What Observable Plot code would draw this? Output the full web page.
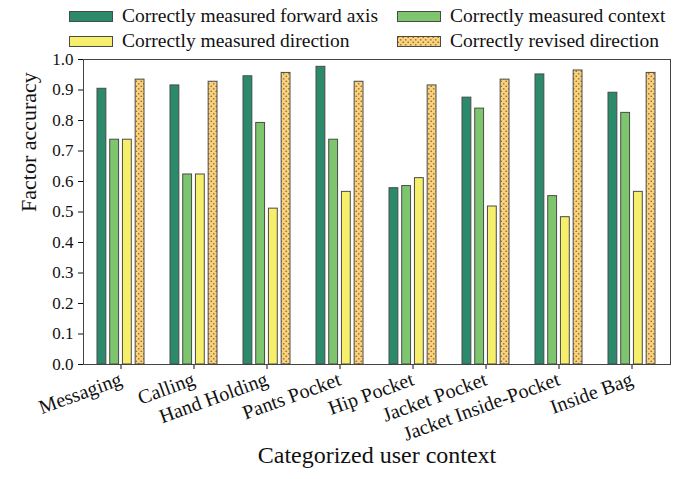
<!DOCTYPE html>
<html>
<head>
<meta charset="utf-8">
<script src="https://cdn.jsdelivr.net/npm/d3@7"></script>
<script src="https://cdn.jsdelivr.net/npm/@observablehq/plot@0.6"></script>
<style>
  body { margin: 0; background: #fff; font-family: "Liberation Serif", serif; }
  #legend { position: relative; width: 687px; height: 50px; }
  .item { position: absolute; display: flex; align-items: center; height: 24px; font-size: 19.5px; color: #111; white-space: nowrap; }
  .item svg { margin-right: 9px; }
  #chart svg g[aria-label^="x-axis"] text { font-size: 20px; }
  #chart svg g[aria-label^="y-axis"] text { font-size: 17px; }
</style>
</head>
<body>
<div id="legend"></div>
<div id="chart"></div>
<script>
// User contexts on the x axis
const categories = ["Messaging", "Calling", "Hand Holding", "Pants Pocket", "Hip Pocket", "Jacket Pocket", "Jacket Inside-Pocket", "Inside Bag"];

// Series names, in drawing order within each group
const seriesNames = ["Correctly measured forward axis", "Correctly measured context", "Correctly measured direction", "Correctly revised direction"];

// Factor accuracy per context
const forwardAxis = [0.904, 0.915, 0.945, 0.976, 0.578, 0.875, 0.951, 0.891];
const context     = [0.737, 0.623, 0.792, 0.737, 0.585, 0.839, 0.552, 0.825];
const direction   = [0.737, 0.623, 0.511, 0.566, 0.611, 0.518, 0.483, 0.566];
const revised     = [0.934, 0.927, 0.956, 0.927, 0.915, 0.934, 0.964, 0.956];

const yTicks = [0, 0.1, 0.2, 0.3, 0.4, 0.5, 0.6, 0.7, 0.8, 0.9, 1.0];

const seriesValues = [forwardAxis, context, direction, revised];
const fills = ["#2b8a6b", "#7ec66d", "#f6ef6c", "url(#dots)"];

const rows = seriesNames.map((name, s) =>
  categories.map((c, i) => ({category: c, series: name, value: seriesValues[s][i]}))
);

// Geometry of the grouped bars within each category band
const width = 687, height = 429;
const marginLeft = 83, marginRight = 17, marginTop = 9, marginBottom = 115;
const padInner = 0.35, padOuter = 0.175;
const step = (width - marginLeft - marginRight) / (categories.length - padInner + 2 * padOuter);
const band = step * (1 - padInner);
const barStep = band / (seriesNames.length - 0.25);
const barWidth = barStep * 0.75;

const barMarks = rows.map((data, s) =>
  Plot.barY(data, {
    x: "category",
    y: "value",
    fill: fills[s],
    stroke: "#4a4a4a",
    strokeWidth: 1,
    insetLeft: s * barStep,
    insetRight: band - s * barStep - barWidth
  })
);

const chart = Plot.plot({
  width, height, marginLeft, marginRight, marginTop, marginBottom,
  style: {fontFamily: "Liberation Serif, serif", color: "#111", background: "#fff"},
  x: {domain: categories, paddingInner: padInner, paddingOuter: padOuter, label: null, tickRotate: -20, tickSize: 5, tickPadding: 9},
  y: {domain: [0, 1], ticks: yTicks, tickFormat: ".1f", label: null, tickSize: 5, tickPadding: 5},
  marks: [
    ...barMarks,
    Plot.frame({stroke: "#444"}),
    Plot.text(["Factor accuracy"], {frameAnchor: "left", dx: -55, rotate: -90, fontSize: 22, fill: "#111"}),
    Plot.text(["Categorized user context"], {frameAnchor: "bottom", dy: 98, fontSize: 24, fill: "#111"})
  ]
});

// Dotted fill used by the revised-direction bars
function addDots(svg, id) {
  const pat = svg.insert("defs", ":first-child").append("pattern")
    .attr("id", id).attr("patternUnits", "userSpaceOnUse")
    .attr("width", 5).attr("height", 5);
  pat.append("rect").attr("width", 5).attr("height", 5).attr("fill", "#f9d27c");
  pat.append("circle").attr("cx", 1.25).attr("cy", 1.25).attr("r", 0.85).attr("fill", "#9a6a35");
  pat.append("circle").attr("cx", 3.75).attr("cy", 3.75).attr("r", 0.85).attr("fill", "#9a6a35");
}
addDots(d3.select(chart), "dots");
document.getElementById("chart").appendChild(chart);

// Legend: two columns, two rows
const legendPos = [
  {left: 69, top: 4}, {left: 397, top: 4},
  {left: 69, top: 29}, {left: 397, top: 29}
];
const legend = d3.select("#legend");
seriesNames.forEach((name, s) => {
  const item = legend.append("div").attr("class", "item")
    .style("left", legendPos[s].left + "px").style("top", legendPos[s].top + "px");
  const sw = item.append("svg").attr("width", 44).attr("height", 11);
  if (s === 3) addDots(sw, "dots-legend");
  sw.append("rect").attr("x", 0.5).attr("y", 0.5).attr("width", 43).attr("height", 10)
    .attr("fill", s === 3 ? "url(#dots-legend)" : fills[s]).attr("stroke", "#4a4a4a");
  item.append("span").text(name);
});
</script>
</body>
</html>
